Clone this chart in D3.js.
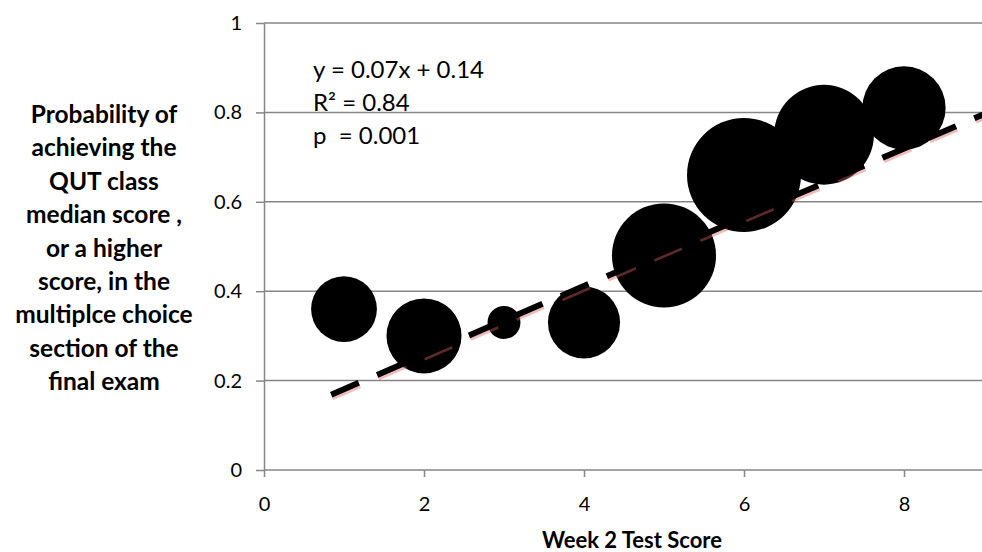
<!DOCTYPE html>
<html>
<head>
<meta charset="utf-8">
<script src="https://cdn.jsdelivr.net/npm/d3@7"></script>
<style>
  body { margin: 0; background: #fff; }
  text { font-family: Lato, "Open Sans", sans-serif; fill: #000; }
</style>
</head>
<body>
<div id="svg-container"></div>
<script>
// week 2 test score vs probability of reaching the class median
const scores = [1, 2, 3, 4, 5, 6, 7, 8];
const probability = [0.36, 0.30, 0.33, 0.33, 0.48, 0.66, 0.75, 0.81];
const students = [20, 26, 5, 24, 50, 60, 46, 32];

const xTicks = [0, 2, 4, 6, 8];
const yTicks = [0, 0.2, 0.4, 0.6, 0.8, 1];

// trendline as drawn (the label shows the rounded equation)
const trendSlope = 0.0769;
const trendIntercept = 0.104;
const trendStart = 0.84;
const trendEnd = 9;

const equationLines = ['y = 0.07x + 0.14', 'R\u00B2 = 0.84', 'p  = 0.001'];
const yTitleLines = ['Probability of', 'achieving the', 'QUT class', 'median score ,',
  'or a higher', 'score, in the', 'multiplce choice', 'section of the', 'final exam'];
const xTitle = 'Week 2 Test Score';

const w = 982;
const h = 552;
const gridColor = '#868686';

const svg = d3.select('#svg-container').
append('svg').
attr('width', w).
attr('height', h);

const xScale = d3.scaleLinear().
domain([0, 9]).
range([264, 984]);

const yScale = d3.scaleLinear().
domain([0, 1]).
range([470, 23]);

const rScale = d3.scaleSqrt().
domain([0, d3.max(students)]).
range([0, 57]);

// horizontal gridlines
svg.append('g').
selectAll('line').
data(yTicks.filter(d => d > 0)).
enter().
append('line').
attr('x1', xScale(0)).
attr('x2', w).
attr('y1', d => yScale(d)).
attr('y2', d => yScale(d)).
style('stroke', gridColor).
style('stroke-width', 1.5);

const yAxis = d3.axisLeft(yScale).
tickValues(yTicks).
tickSize(8).
tickSizeOuter(0).
tickPadding(14).
tickFormat(d3.format('~g'));

const xAxis = d3.axisBottom(xScale).
tickValues(xTicks).
tickSize(7).
tickSizeOuter(0).
tickPadding(20);

const yAxisG = svg.append('g').
attr('transform', 'translate(' + xScale(0) + ',0)').
call(yAxis);

const xAxisG = svg.append('g').
attr('transform', 'translate(0,' + yScale(0) + ')').
call(xAxis);

xAxisG.select('.domain').attr('d', 'M' + xScale(0) + ',0H' + w);

[yAxisG, xAxisG].forEach(function (g) {
  g.selectAll('path, line').style('stroke', gridColor).style('stroke-width', 1.5);
  g.selectAll('text').style('font-size', '20px').style('font-family', 'Lato, sans-serif').style('fill', '#000');
});

// bubbles
svg.append('g').
selectAll('circle').
data(scores).
enter().
append('circle').
attr('cx', d => xScale(d)).
attr('cy', (d, i) => yScale(probability[i])).
attr('r', (d, i) => rScale(students[i])).
style('fill', '#000');

// dashed trendline with its soft red shadow
const trend = svg.append('g');
const trendPts = [trendStart, trendEnd].map(x => [xScale(x), yScale(trendSlope * x + trendIntercept)]);

trend.append('line').
attr('x1', trendPts[0][0] + 1).
attr('y1', trendPts[0][1] + 2.5).
attr('x2', trendPts[1][0] + 1).
attr('y2', trendPts[1][1] + 2.5).
style('stroke', 'rgb(220,98,98)').
style('stroke-opacity', 0.42).
style('stroke-width', 6).
style('stroke-dasharray', '30 20');

trend.append('line').
attr('x1', trendPts[0][0]).
attr('y1', trendPts[0][1]).
attr('x2', trendPts[1][0]).
attr('y2', trendPts[1][1]).
style('stroke', '#000').
style('stroke-width', 6).
style('stroke-dasharray', '30 20');

// regression label
svg.append('g').
selectAll('text').
data(equationLines).
enter().
append('text').
attr('x', 313).
attr('y', (d, i) => 78 + i * 33).
style('font-size', '24px').
style('white-space', 'pre').
text(d => d);

// y axis title
svg.append('text').
attr('text-anchor', 'middle').
style('font-size', '24.5px').
style('font-weight', 'bold').
selectAll('tspan').
data(yTitleLines).
enter().
append('tspan').
attr('x', 104).
attr('y', (d, i) => 123 + i * 33.4).
text(d => d);

svg.append('text').
attr('x', 632).
attr('y', 548).
attr('text-anchor', 'middle').
style('font-size', '22px').
style('font-weight', 'bold').
text(xTitle);
</script>
</body>
</html>
